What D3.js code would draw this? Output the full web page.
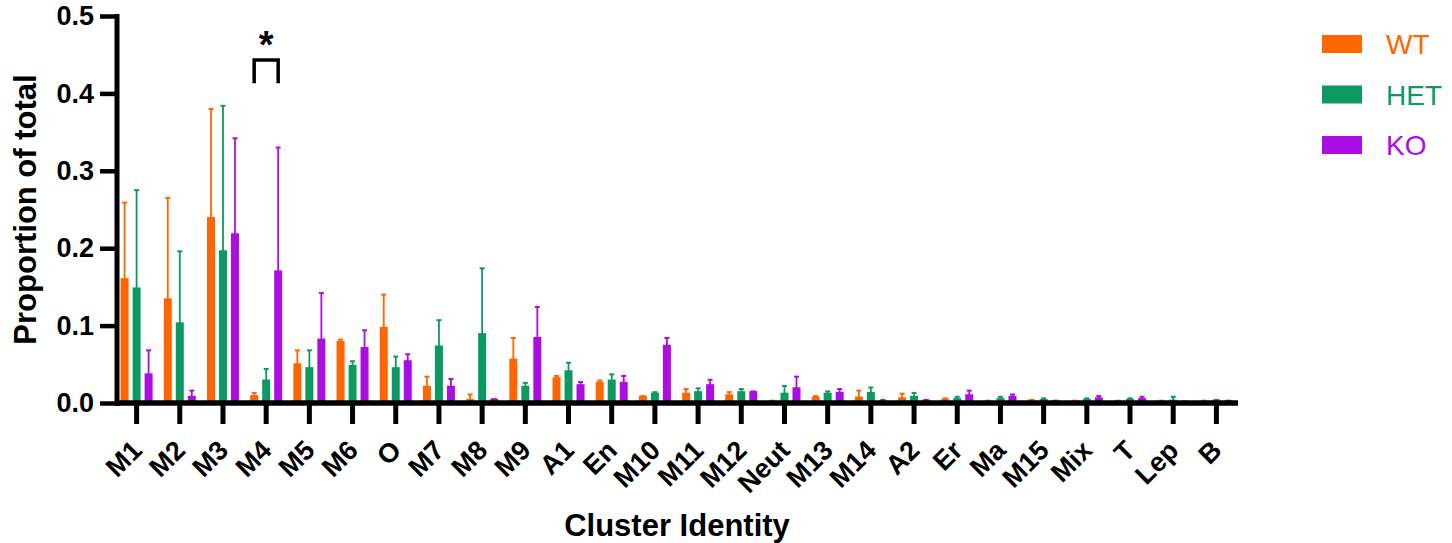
<!DOCTYPE html>
<html>
<head>
<meta charset="utf-8">
<script src="https://cdn.jsdelivr.net/npm/d3@7"></script>
<style>
  body { margin: 0; background: #fff; }
  text { font-family: "Liberation Sans", Arial, sans-serif; }
</style>
</head>
<body>
<div id="chart"></div>
<script>
const categories = ['M1','M2','M3','M4','M5','M6','O','M7','M8','M9','A1','En','M10','M11','M12','Neut','M13','M14','A2','Er','Ma','M15','Mix','T','Lep','B'];
const groups = ['WT', 'HET', 'KO'];
const colors = ['#ff6600', '#0c9a62', '#ab0de2'];

const wt    = [0.160,0.134,0.239,0.009,0.050,0.079,0.097,0.021,0.004,0.056,0.032,0.026,0.008,0.012,0.010,0.002,0.007,0.007,0.006,0.004,0.002,0.003,0.002,0.002,0.002,0.002];
const wtSd  = [0.099,0.131,0.141,0.004,0.018,0.003,0.043,0.013,0.007,0.028,0.003,0.003,0.001,0.006,0.004,0.001,0.002,0.009,0.006,0.002,0.001,0.001,0.001,0.001,0.001,0.001];
const het   = [0.148,0.103,0.196,0.029,0.045,0.048,0.045,0.073,0.089,0.021,0.041,0.029,0.012,0.014,0.014,0.012,0.012,0.013,0.008,0.005,0.005,0.004,0.004,0.004,0.003,0.003];
const hetSd = [0.127,0.093,0.188,0.015,0.023,0.006,0.015,0.034,0.085,0.005,0.011,0.008,0.002,0.005,0.004,0.010,0.003,0.007,0.005,0.003,0.003,0.002,0.002,0.002,0.005,0.001];
const ko    = [0.037,0.008,0.218,0.170,0.082,0.071,0.054,0.021,0.004,0.084,0.023,0.026,0.074,0.023,0.014,0.019,0.013,0.002,0.003,0.010,0.008,0.002,0.006,0.005,0.001,0.002];
const koSd  = [0.031,0.008,0.124,0.160,0.060,0.023,0.009,0.010,0.001,0.040,0.004,0.009,0.010,0.007,0.001,0.015,0.005,0.002,0.001,0.006,0.003,0.001,0.003,0.003,0.001,0.001];
const yTicks = [0, 0.1, 0.2, 0.3, 0.4, 0.5];

const means = [wt, het, ko];
const sds = [wtSd, hetSd, koSd];

const w = 1452;
const h = 543;
const padL = 117, padR = 1238, padT = 16, padB = 403;

const x = d3.scaleBand().domain(categories).range([padL - 2, padR]);
const y = d3.scaleLinear().domain([0, 0.5]).range([padB, padT]);
const offsets = [-12, 0, 12];
const barW = 8;

const svg = d3.select('#chart').append('svg').attr('width', w).attr('height', h);

// bars and error bars
const rows = [];
groups.forEach((g, gi) => {
  categories.forEach((c, ci) => {
    rows.push({ g: gi, c: c, v: means[gi][ci], sd: sds[gi][ci] });
  });
});
const cx = d => x(d.c) + x.bandwidth() / 2 + offsets[d.g];

svg.selectAll('line.err').data(rows).enter().append('line')
  .attr('class', 'err')
  .attr('x1', cx).attr('x2', cx)
  .attr('y1', d => y(d.v)).attr('y2', d => y(d.v + d.sd))
  .attr('stroke', d => colors[d.g]).attr('stroke-width', 1.8);
svg.selectAll('line.cap').data(rows).enter().append('line')
  .attr('class', 'cap')
  .attr('x1', d => cx(d) - 2.5).attr('x2', d => cx(d) + 2.5)
  .attr('y1', d => y(d.v + d.sd)).attr('y2', d => y(d.v + d.sd))
  .attr('stroke', d => colors[d.g]).attr('stroke-width', 2);
svg.selectAll('rect.bar').data(rows).enter().append('rect')
  .attr('class', 'bar')
  .attr('x', d => cx(d) - barW / 2)
  .attr('width', barW)
  .attr('y', d => y(d.v) - 1)
  .attr('height', d => padB - y(d.v) + 1)
  .attr('fill', d => colors[d.g]);

// axes
const yAxis = d3.axisLeft(y).tickValues(yTicks).tickFormat(d3.format('.1f')).tickSize(17).tickPadding(6);
const gy = svg.append('g').attr('transform', 'translate(' + padL + ',0)').call(yAxis);
gy.select('.domain').attr('stroke-width', 5).attr('d', 'M0,' + (padT - 2) + 'V' + (padB + 3));
gy.selectAll('.tick line').attr('stroke-width', 4.5);
gy.selectAll('.tick text').attr('font-size', 27).attr('font-weight', 'bold').attr('fill', '#000');

const xAxis = d3.axisBottom(x).tickSize(21).tickPadding(0);
const gx = svg.append('g').attr('transform', 'translate(0,' + padB + ')').call(xAxis);
gx.select('.domain').attr('stroke-width', 5.5).attr('d', 'M' + (padL - 2) + ',0H' + padR);
gx.selectAll('.tick line').attr('stroke-width', 5);
gx.selectAll('.tick text')
  .attr('font-size', 27).attr('font-weight', 'bold').attr('fill', '#000')
  .attr('text-anchor', 'end')
  .attr('y', 0).attr('dy', 0)
  .attr('transform', 'translate(7,49) rotate(-45)');

// axis titles
svg.append('text').attr('x', 677).attr('y', 536).attr('text-anchor', 'middle')
  .attr('font-size', 31).attr('font-weight', 'bold').text('Cluster Identity');
svg.append('text').attr('transform', 'translate(36,' + ((padT + padB) / 2) + ') rotate(-90)')
  .attr('text-anchor', 'middle').attr('font-size', 31).attr('font-weight', 'bold').text('Proportion of total');

// significance bracket on M4 (WT vs KO)
const bx1 = x('M4') + x.bandwidth() / 2 + offsets[0];
const bx2 = x('M4') + x.bandwidth() / 2 + offsets[2];
svg.append('path')
  .attr('d', 'M' + bx1 + ',' + y(0.413) + 'V' + y(0.443) + 'H' + bx2 + 'V' + y(0.413))
  .attr('fill', 'none').attr('stroke', '#000').attr('stroke-width', 3.5);
svg.append('text').attr('x', (bx1 + bx2) / 2).attr('y', y(0.443) - 2).attr('text-anchor', 'middle')
  .attr('font-size', 38).attr('font-weight', 'bold').text('*');

// legend
const legend = svg.append('g').attr('transform', 'translate(1322,44)');
groups.forEach((g, i) => {
  const row = legend.append('g').attr('transform', 'translate(0,' + (i * 50.5) + ')');
  row.append('rect').attr('x', 0).attr('y', -9).attr('width', 40).attr('height', 18).attr('fill', colors[i]);
  row.append('text').attr('x', 64).attr('y', 0).attr('dy', '0.36em')
    .attr('font-size', 28).attr('fill', colors[i]).text(g);
});
</script>
</body>
</html>
